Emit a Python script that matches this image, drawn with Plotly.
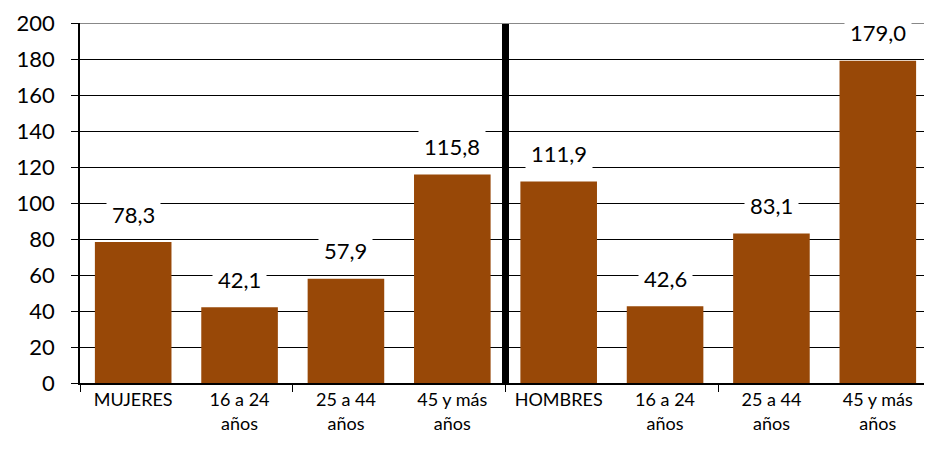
import plotly.graph_objects as go

categories = ["MUJERES", "16 a 24<br>años", "25 a 44<br>años", "45 y más<br>años",
              "HOMBRES", "16 a 24<br>años", "25 a 44<br>años", "45 y más<br>años"]
values = [78.3, 42.1, 57.9, 115.8, 111.9, 42.6, 83.1, 179.0]
value_labels = ["78,3", "42,1", "57,9", "115,8", "111,9", "42,6", "83,1", "179,0"]
y_ticks = [0, 20, 40, 60, 80, 100, 120, 140, 160, 180, 200]

x = list(range(len(categories)))
FONT = "Lato"

fig = go.Figure()
fig.add_trace(go.Bar(x=x, y=values, marker=dict(color="#984807", line=dict(width=0)),
                     width=0.72, hoverinfo="skip"))

for xi, v, lab in zip(x, values, value_labels):
    fig.add_annotation(x=xi, y=v, text=lab, showarrow=False, yanchor="middle",
                       yshift=28, bgcolor="white", borderpad=5,
                       font=dict(family=FONT, size=22, color="black"))

fig.add_shape(type="line", x0=3.5, x1=3.5, y0=0, y1=200, xref="x", yref="y",
              line=dict(color="black", width=7))
fig.add_shape(type="line", x0=-0.5, x1=7.5, y0=200, y1=200, xref="x", yref="y",
              line=dict(color="#888888", width=2))
fig.add_shape(type="line", x0=7.5, x1=7.5, y0=0, y1=200, xref="x", yref="y",
              line=dict(color="black", width=1.5))

fig.update_layout(
    width=932, height=452,
    margin=dict(l=72, r=9, t=15, b=77, autoexpand=False),
    plot_bgcolor="white", paper_bgcolor="white",
    showlegend=False,
    font=dict(family=FONT, color="black"),
    xaxis=dict(range=[-0.5, 7.5], tickvals=x, ticktext=categories, ticks="",
               automargin=False,
               showgrid=False, showline=True, linecolor="black", linewidth=1.5,
               tickfont=dict(family=FONT, size=18, color="black"), zeroline=False,
               minor=dict(tickvals=[-0.5, 1.5, 3.5, 5.5, 7.5], ticks="outside",
                          ticklen=7, tickcolor="black", showgrid=False)),
    yaxis=dict(range=[0, 200], tickvals=y_ticks, ticks="outside", ticklen=7,
               automargin=False, ticklabeloverflow="allow",
               tickcolor="black", showgrid=True, gridcolor="black", gridwidth=1,
               showline=True, linecolor="black", linewidth=1.5, zeroline=False,
               tickfont=dict(family=FONT, size=22, color="black"), ticklabelstandoff=12),
)

fig.write_html("out.html")
